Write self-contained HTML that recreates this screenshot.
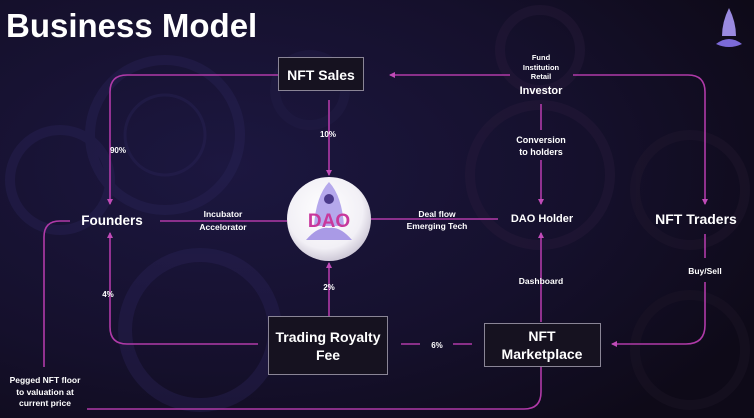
<!DOCTYPE html>
<html><head><meta charset="utf-8"><style>
html,body{margin:0;padding:0;overflow:hidden}
body{width:754px;height:418px;overflow:hidden;background:#120d22;font-family:"Liberation Sans",Arial,sans-serif;}
svg{display:block}
</style></head><body>
<svg width="754" height="418" viewBox="0 0 754 418" xmlns="http://www.w3.org/2000/svg" font-family="Liberation Sans, Arial, sans-serif">
<defs>
<radialGradient id="bg" cx="0.3" cy="0.4" r="0.8">
<stop offset="0" stop-color="#1c1740"/><stop offset="0.6" stop-color="#15102c"/><stop offset="1" stop-color="#0e0a18"/>
</radialGradient>
<radialGradient id="dao" cx="0.45" cy="0.4" r="0.6">
<stop offset="0" stop-color="#ffffff"/><stop offset="0.75" stop-color="#f2f0f6"/><stop offset="1" stop-color="#cfcad8"/>
</radialGradient>
<marker id="ar" markerWidth="8" markerHeight="8" refX="5" refY="4" orient="auto" markerUnits="userSpaceOnUse">
<path d="M0,1 L6,4 L0,7 Z" fill="#c04bb8"/>
</marker>
</defs>
<rect width="754" height="418" fill="url(#bg)"/>
<g fill="none" stroke="#2a2458" stroke-width="10" opacity="0.4">
<circle cx="165" cy="135" r="75"/>
<circle cx="165" cy="135" r="40" stroke-width="3"/>
<circle cx="60" cy="180" r="50"/>
<circle cx="200" cy="330" r="75" stroke-width="14"/>
<circle cx="540" cy="175" r="70" stroke="#2a1c3c"/>
<circle cx="540" cy="50" r="40" stroke="#2a1c3c"/>
<circle cx="310" cy="90" r="35" stroke="#241e48"/>
<circle cx="690" cy="190" r="55" stroke="#221830"/>
<circle cx="690" cy="350" r="55" stroke="#1e1628"/>
</g>
<g fill="none" stroke="#b03aa8" stroke-width="1.6">
<path d="M278 75 H127 Q110 75 110 92 V204" marker-end="url(#ar)"/>
<path d="M329 100 V175" marker-end="url(#ar)"/>
<path d="M510 75 H390" marker-end="url(#ar)"/>
<path d="M573 75 H688 Q705 75 705 92 V204" marker-end="url(#ar)"/>
<path d="M541 104 V130 M541 160 V204" marker-end="url(#ar)"/>
<path d="M160 221 H287"/>
<path d="M371 219 H498"/>
<path d="M541 322 V233" marker-end="url(#ar)"/>
<path d="M705 234 V258 M705 282 V325 Q705 344 686 344 H612" marker-end="url(#ar)"/>
<path d="M401 344 H420 M453 344 H472"/>
<path d="M329 316 V263" marker-end="url(#ar)"/>
<path d="M258 344 H127 Q110 344 110 327 V233" marker-end="url(#ar)"/>
<path d="M70 221 H60 Q44 221 44 237 V367"/>
<path d="M87 409 H524 Q541 409 541 392 V367"/>
</g>
<text x="6" y="37" font-size="33" font-weight="bold" fill="#fff">Business Model</text>
<rect x="278.5" y="57.5" width="85" height="33" fill="#161220" stroke="#8a8596"/>
<text x="321" y="80" font-size="14" font-weight="bold" fill="#fff" text-anchor="middle">NFT Sales</text>
<g fill="#fff" font-weight="bold" text-anchor="middle">
<text x="118" y="153" font-size="8">90%</text>
<text x="328" y="137" font-size="8">10%</text>
<text x="541" y="60" font-size="7.5">Fund</text>
<text x="541" y="70" font-size="7.5">Institution</text>
<text x="541" y="79" font-size="7.5">Retail</text>
<text x="541" y="94" font-size="11">Investor</text>
<text x="541" y="143" font-size="9">Conversion</text>
<text x="541" y="155" font-size="9">to holders</text>
<text x="112" y="225" font-size="13.5">Founders</text>
<text x="223" y="217" font-size="8.5">Incubator</text>
<text x="223" y="230" font-size="8.5">Accelorator</text>
<text x="437" y="217" font-size="8.5">Deal flow</text>
<text x="437" y="229" font-size="8.5">Emerging Tech</text>
<text x="542" y="222" font-size="11">DAO Holder</text>
<text x="696" y="224" font-size="14">NFT Traders</text>
<text x="541" y="284" font-size="8.5">Dashboard</text>
<text x="705" y="274" font-size="8.5">Buy/Sell</text>
<text x="108" y="297" font-size="8">4%</text>
<text x="329" y="290" font-size="8">2%</text>
<text x="437" y="348" font-size="8">6%</text>
<text x="45" y="383" font-size="8.5">Pegged NFT floor</text>
<text x="45" y="395" font-size="8.5">to valuation at</text>
<text x="45" y="406" font-size="8.5">current price</text>
</g>
<rect x="268.5" y="316.5" width="119" height="58" fill="#161220" stroke="#8a8596"/>
<text x="328" y="342" font-size="14" font-weight="bold" fill="#fff" text-anchor="middle">Trading Royalty</text>
<text x="328" y="360" font-size="14" font-weight="bold" fill="#fff" text-anchor="middle">Fee</text>
<rect x="484.5" y="323.5" width="116" height="43" fill="#161220" stroke="#8a8596"/>
<text x="542" y="341" font-size="14" font-weight="bold" fill="#fff" text-anchor="middle">NFT</text>
<text x="542" y="359" font-size="14" font-weight="bold" fill="#fff" text-anchor="middle">Marketplace</text>
<circle cx="329" cy="219" r="42" fill="url(#dao)"/>
<path d="M329 182 Q316 196 314 226 L344 226 Q342 196 329 182 Z" fill="#b5a8ec"/>
<path d="M306 240 Q318 226 329 228 Q340 226 352 240 Z" fill="#a99ae6"/>
<circle cx="329" cy="199" r="5" fill="#4a3a8a"/>
<text x="329" y="227" font-size="19" font-weight="bold" fill="#c8389c" text-anchor="middle">DAO</text>
<path d="M729 8 Q722 22 722 36 L736 36 Q736 22 729 8 Z" fill="#9a8ae0"/>
<path d="M716 44 Q729 34 742 44 Q729 50 716 44 Z" fill="#7c6ad8"/>
</svg>
</body></html>
